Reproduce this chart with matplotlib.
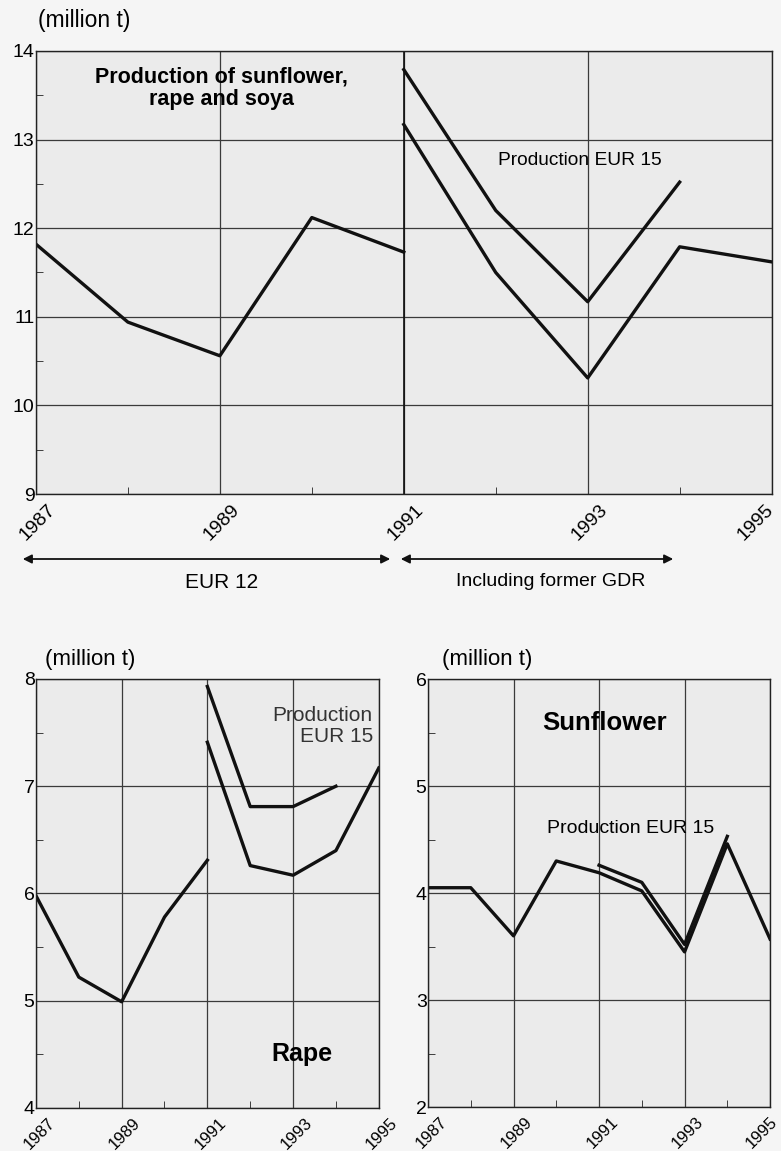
import matplotlib.pyplot as plt
import matplotlib.transforms as mtransforms
from matplotlib.ticker import MultipleLocator

# ---- data (million t) ----
years_all = [1987, 1988, 1989, 1990, 1991]
years_new = [1991, 1992, 1993, 1994, 1995]
years_e15 = [1991, 1992, 1993, 1994]

# total sunflower + rape + soya
total_eur12 = [11.82, 10.94, 10.56, 12.12, 11.73]
total_gdr = [13.17, 11.50, 10.31, 11.79, 11.62]
total_eur15 = [13.79, 12.20, 11.17, 12.52]

# rape
rape_eur12 = [5.98, 5.22, 4.99, 5.78, 6.31]
rape_gdr = [7.41, 6.26, 6.17, 6.40, 7.17]
rape_eur15 = [7.93, 6.81, 6.81, 7.00]

# sunflower
sun_years = [1987, 1988, 1989, 1990, 1991, 1992, 1993, 1994, 1995]
sun_vals = [4.05, 4.05, 3.60, 4.30, 4.19, 4.02, 3.45, 4.46, 3.57]
sun_eur15 = [4.26, 4.10, 3.52, 4.53]

year_ticks = [1987, 1989, 1991, 1993, 1995]

BG = "#ebebeb"
GRID = "#3a3a3a"
INK = "#111111"
LW = 2.4

plt.rcParams["font.family"] = ["Liberation Sans", "DejaVu Sans"]

fig = plt.figure(figsize=(7.81, 11.51), dpi=100)
fig.patch.set_facecolor("#f5f5f5")


def style_axes(ax, ymin, ymax, xfs, last_dx):
    ax.set_facecolor(BG)
    ax.set_xlim(1987, 1995)
    ax.set_ylim(ymin, ymax)
    ax.set_xticks(year_ticks)
    ax.set_xticklabels([str(y) for y in year_ticks], rotation=45, ha="right",
                       rotation_mode="anchor", fontsize=xfs)
    ax.xaxis.set_minor_locator(MultipleLocator(1))
    ax.yaxis.set_major_locator(MultipleLocator(1))
    ax.yaxis.set_minor_locator(MultipleLocator(0.5))
    ax.tick_params(axis="both", which="both", direction="in", color="#222222")
    ax.tick_params(axis="both", which="major", length=0, pad=2)
    ax.tick_params(axis="both", which="minor", length=5)
    ax.tick_params(axis="y", labelsize=14, pad=1)
    ax.grid(True, which="major", color=GRID, linewidth=0.9)
    for s in ax.spines.values():
        s.set_color("#222222")
        s.set_linewidth(1.0)
    # push the rotated year labels a bit right/down like the print
    labels = ax.get_xticklabels()
    for i, lab in enumerate(labels):
        dx = 8 if i < len(labels) - 1 else last_dx
        off = mtransforms.ScaledTranslation(dx / 72, -3 / 72, fig.dpi_scale_trans)
        lab.set_transform(lab.get_transform() + off)


# ---- top panel ----
ax1 = fig.add_axes([0.046, 0.5708, 0.942, 0.3849])
style_axes(ax1, 9, 14, 14, -5)
ax1.axvline(1991, color=INK, linewidth=1.2)
ax1.plot(years_all, total_eur12, color=INK, linewidth=LW)
ax1.plot(years_new, total_gdr, color=INK, linewidth=LW)
ax1.plot(years_e15, total_eur15, color=INK, linewidth=LW)
ax1.text(1989.02, 13.58, "Production of sunflower,\nrape and soya", ha="center", va="center",
         fontsize=15.5, fontweight="bold", linespacing=1.05)
ax1.text(1992.91, 12.76, "Production EUR 15", ha="center", va="center", fontsize=13.8)
fig.text(38 / 781, 1 - 20 / 1151, "(million t)", ha="left", va="center", fontsize=16.5)

# period arrows
ay = 1 - 559 / 1151
ax1.annotate("", xy=(20 / 781, ay), xytext=(393 / 781, ay), xycoords="figure fraction",
             arrowprops=dict(arrowstyle="<|-|>", color=INK, lw=1.3, mutation_scale=13))
ax1.annotate("", xy=(398 / 781, ay), xytext=(676 / 781, ay), xycoords="figure fraction",
             arrowprops=dict(arrowstyle="<|-|>", color=INK, lw=1.3, mutation_scale=13))
fig.text(222 / 781, 1 - 582 / 1151, "EUR 12", ha="center", va="center", fontsize=15)
fig.text(551 / 781, 1 - 581 / 1151, "Including former GDR", ha="center", va="center", fontsize=14)

# ---- rape ----
ax2 = fig.add_axes([0.046, 0.0374, 0.439, 0.3727])
style_axes(ax2, 4, 8, 12, 8)
ax2.plot(years_all, rape_eur12, color=INK, linewidth=LW)
ax2.plot(years_new, rape_gdr, color=INK, linewidth=LW)
ax2.plot(years_e15, rape_eur15, color=INK, linewidth=LW)
ax2.text(1994.86, 7.56, "Production\nEUR 15", ha="right", va="center", fontsize=15,
         color="#333333", linespacing=1.1)
ax2.text(1993.2, 4.50, "Rape", ha="center", va="center", fontsize=18, fontweight="bold")
fig.text(45 / 781, 1 - 660 / 1151, "(million t)", ha="left", va="center", fontsize=16)

# ---- sunflower ----
ax3 = fig.add_axes([0.548, 0.0382, 0.438, 0.3718])
style_axes(ax3, 2, 6, 12, 0)
ax3.plot(sun_years, sun_vals, color=INK, linewidth=LW)
ax3.plot(years_e15, sun_eur15, color=INK, linewidth=LW)
ax3.text(1991.12, 5.59, "Sunflower", ha="center", va="center", fontsize=18.5, fontweight="bold")
ax3.text(1991.73, 4.60, "Production EUR 15", ha="center", va="center", fontsize=14)
fig.text(442 / 781, 1 - 660 / 1151, "(million t)", ha="left", va="center", fontsize=16)

fig.savefig("out.png", dpi=100, facecolor=fig.get_facecolor())
